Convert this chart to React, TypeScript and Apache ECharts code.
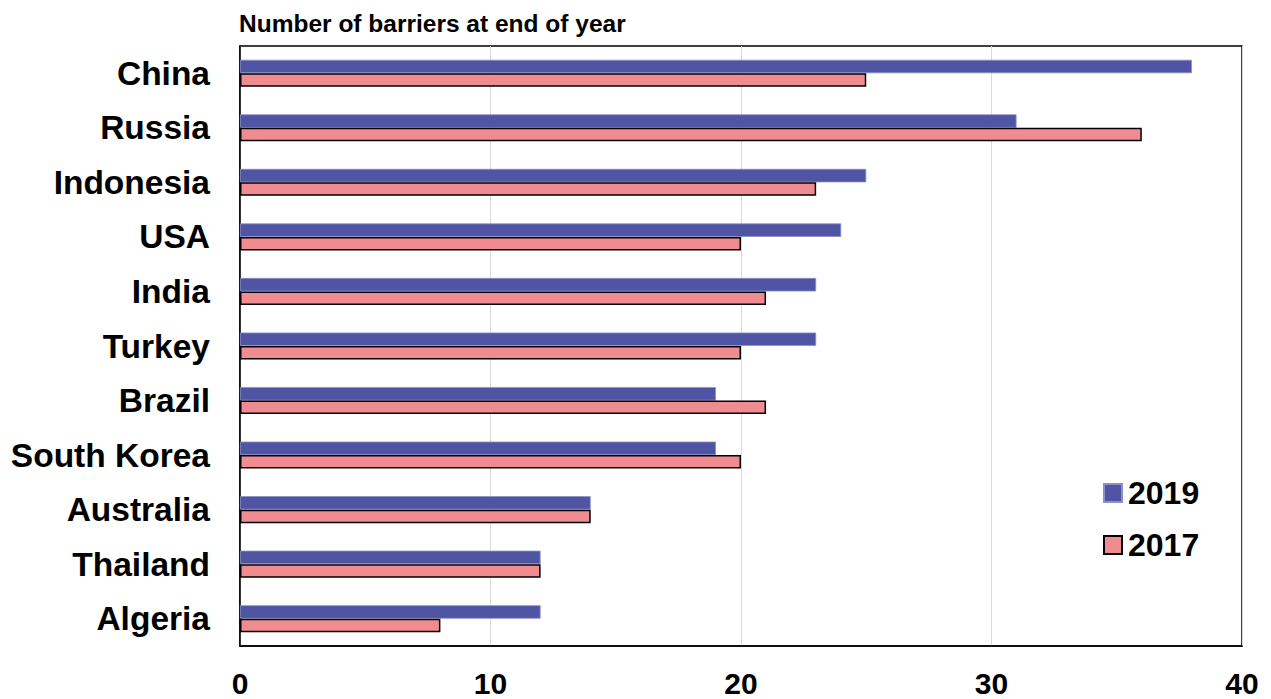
import React, { useEffect, useRef } from "react";
import * as echarts from "echarts";

const countries = ["China", "Russia", "Indonesia", "USA", "India", "Turkey", "Brazil", "South Korea", "Australia", "Thailand", "Algeria"];
const values2019 = [38, 31, 25, 24, 23, 23, 19, 19, 14, 12, 12];
const values2017 = [25, 36, 23, 20, 21, 20, 21, 20, 14, 12, 8];
const xTicks = [0, 10, 20, 30, 40];
const titleText = "Number of barriers at end of year";

const FONT = "'Liberation Sans', Arial, sans-serif";

export default function App() {
  const ref = useRef<HTMLDivElement>(null);
  useEffect(() => {
    if (!ref.current) return;
    const chart = echarts.init(ref.current, undefined, { renderer: "svg" });
    chart.setOption({
      animation: false,
      backgroundColor: "#ffffff",
      textStyle: { fontFamily: FONT },
      title: {
        text: titleText,
        left: 234,
        top: 6,
        textStyle: { fontFamily: FONT, fontSize: 24.5, fontWeight: "bold", color: "#000" },
      },
      legend: {
        orient: "vertical",
        left: 1098,
        top: 472,
        icon: "rect",
        itemWidth: 18,
        itemHeight: 18,
        itemGap: 20,
        data: ["2019", "2017"],
        textStyle: { fontFamily: FONT, fontSize: 32, fontWeight: "bold", color: "#000", padding: [0, 0, 0, 1] },
      },
      grid: {
        left: 240,
        right: 29,
        top: 46,
        bottom: 53,
        outerBoundsMode: "none",
        containLabel: false,
        show: true,
        borderColor: "#000",
        borderWidth: 1.5,
        backgroundColor: "transparent",
      },
      xAxis: {
        type: "value",
        min: xTicks[0],
        max: xTicks[xTicks.length - 1],
        interval: 10,
        axisLine: { show: true, lineStyle: { color: "#000", width: 1.5 } },
        axisTick: { show: false },
        splitLine: { show: true, lineStyle: { color: "#d9d9d9", width: 1 } },
        axisLabel: { fontFamily: FONT, fontSize: 30, fontWeight: "bold", color: "#000", margin: 22 },
      },
      yAxis: {
        type: "category",
        data: countries,
        inverse: true,
        axisLine: { show: true, lineStyle: { color: "#000", width: 1.5 } },
        axisTick: { show: false },
        splitLine: { show: false },
        axisLabel: { fontFamily: FONT, fontSize: 33.5, fontWeight: "bold", color: "#000", margin: 30 },
      },
      series: [
        {
          name: "2019",
          type: "bar",
          data: values2019,
          barWidth: 13.5,
          barGap: "0%",
          itemStyle: { color: "#4F55A3", borderColor: "#8C90C8", borderWidth: 0.8 },
        },
        {
          name: "2017",
          type: "bar",
          data: values2017,
          barWidth: 13.5,
          barGap: "0%",
          itemStyle: { color: "#F08C91", borderColor: "#000", borderWidth: 1.5 },
        },
      ],
    });
    return () => chart.dispose();
  }, []);
  return <div ref={ref} style={{ position: "fixed", left: 0, top: 0, width: 1271, height: 699 }} />;
}
